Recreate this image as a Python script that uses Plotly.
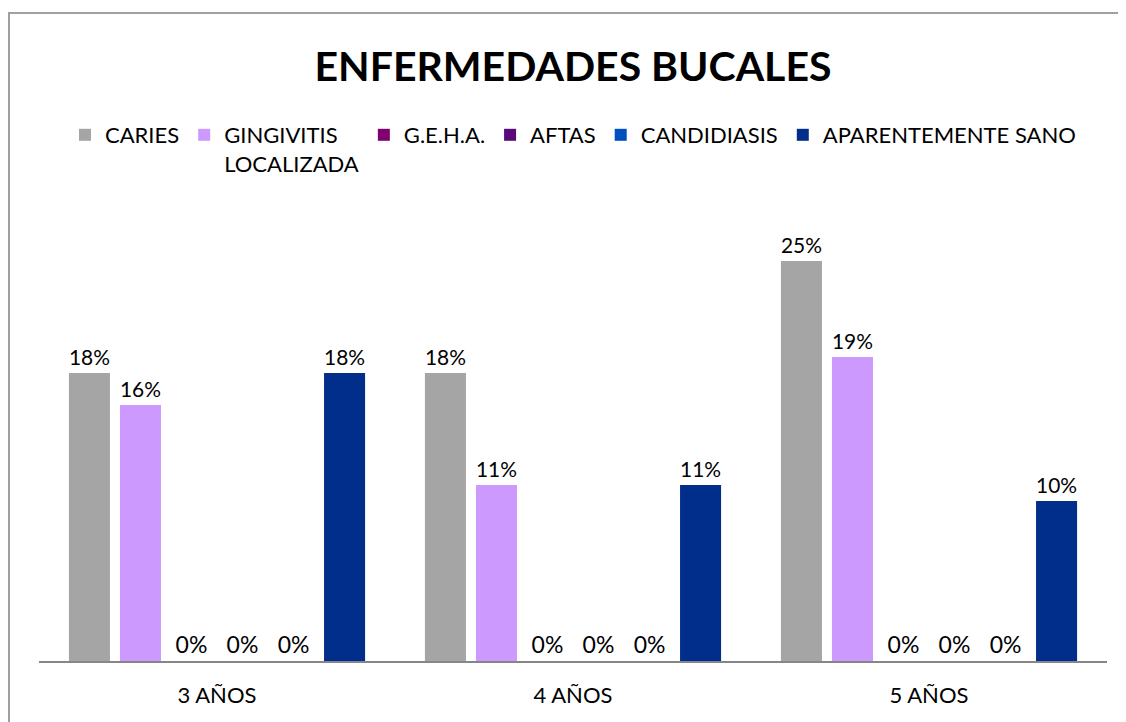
import plotly.graph_objects as go

categories = ["3 AÑOS", "4 AÑOS", "5 AÑOS"]
series_names = ["CARIES", "GINGIVITIS<br>LOCALIZADA", "G.E.H.A.", "AFTAS", "CANDIDIASIS", "APARENTEMENTE SANO"]
caries = [0.18, 0.18, 0.25]
gingivitis = [0.16, 0.11, 0.19]
geha = [0.0, 0.0, 0.0]
aftas = [0.0, 0.0, 0.0]
candidiasis = [0.0, 0.0, 0.0]
sano = [0.18, 0.11, 0.10]
colors = ["#A5A5A5", "#CC99FF", "#800070", "#5A0A78", "#0050C0", "#002E8A"]

series_values = [caries, gingivitis, geha, aftas, candidiasis, sano]

FONT = "Lato"
OFF = 8  # page body margin offset
fig = go.Figure()
for name, vals, col in zip(series_names, series_values, colors):
    fig.add_trace(go.Bar(
        x=categories, y=vals, name=name,
        marker=dict(color=col, line=dict(width=0)),
        texttemplate="%{y:.0%}", textposition="outside",
        textfont=dict(family=FONT, size=23, color="#000000"),
        cliponaxis=False,
    ))

W, H = 1126 - OFF, 722 - OFF
L = 39 - OFF
R = W - (1107 - OFF)
B = H - (661 - OFF)
T = 213 - OFF
fig.update_layout(
    width=W, height=H,
    paper_bgcolor="white", plot_bgcolor="white",
    margin=dict(l=L, r=R, t=T, b=B),
    barmode="group", bargap=0.14, bargroupgap=0.196,
    font=dict(family=FONT, color="#000000"),
    title=dict(text="<b>ENFERMEDADES BUCALES</b>", x=0.5, xref="paper",
               y=1 - 58.5 / H, yref="container", yanchor="middle",
               font=dict(family=FONT, size=41, color="#000000")),
    legend=dict(orientation="h", xref="container", yref="container",
                x=57 / W, y=1 - 106 / H, xanchor="left", yanchor="top",
                valign="top", font=dict(family=FONT, size=22, color="#000000"),
                traceorder="normal", itemclick=False),
    showlegend=True,
    xaxis=dict(showline=True, linecolor="#868686", linewidth=2, ticks="",
               tickfont=dict(family=FONT, size=22, color="#000000"),
               ticklabelstandoff=14,
               showgrid=False, zeroline=False, fixedrange=True),
    yaxis=dict(range=[0, 0.28], visible=False, showgrid=False, zeroline=False),
)
ph = H - T - B
pw = W - L - R
fig.add_shape(type="rect", xref="paper", yref="paper",
              x0=(9 - OFF - L) / pw, x1=(W + 10 - L) / pw,
              y0=-(B + 20) / ph, y1=(H - B - (13 - OFF)) / ph,
              line=dict(color="#A0A0A0", width=2), fillcolor="rgba(0,0,0,0)", layer="below")
fig.write_html("out.html")
